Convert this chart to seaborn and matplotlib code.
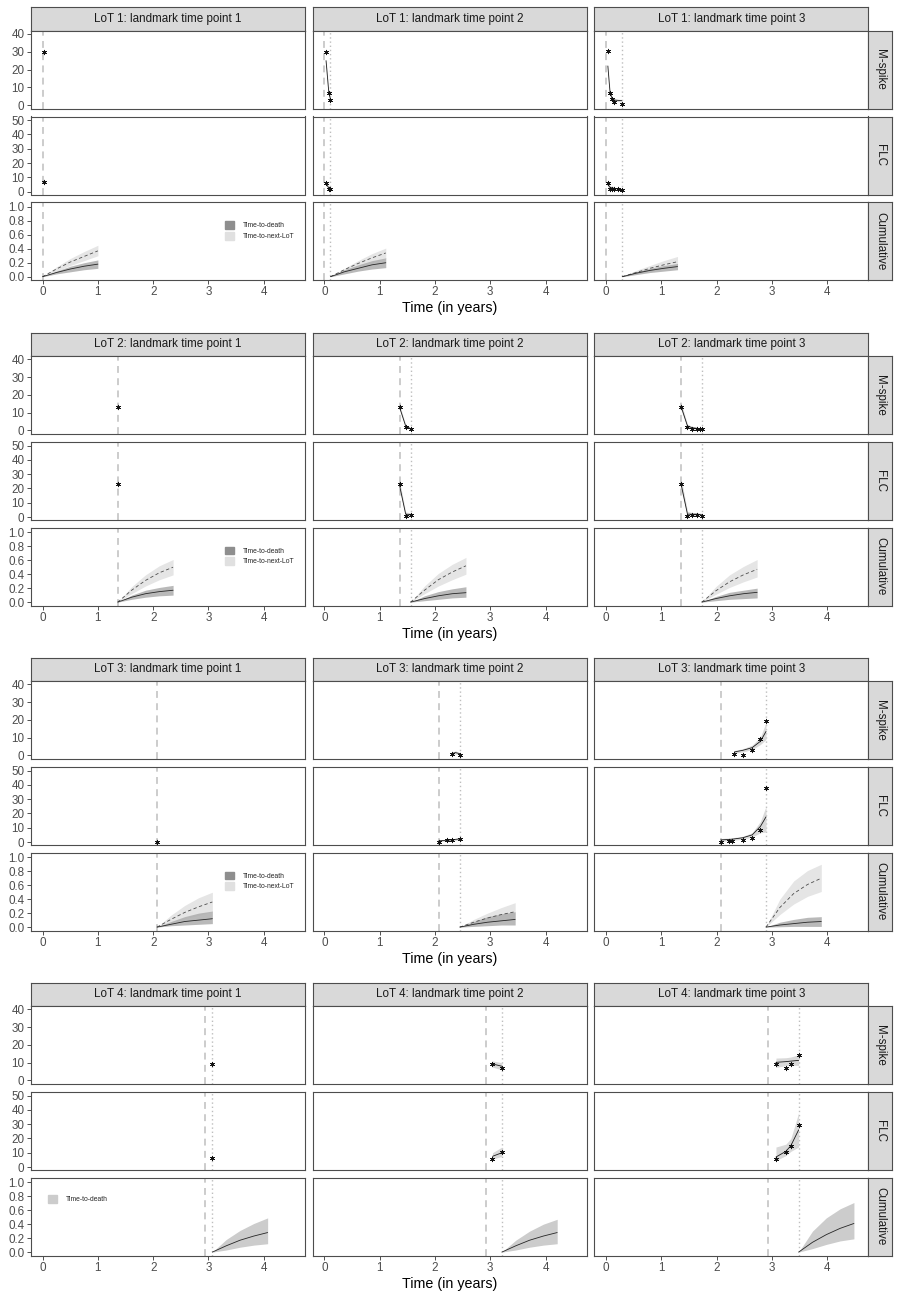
import matplotlib
matplotlib.use("Agg")
import matplotlib.pyplot as plt
from matplotlib.patches import Patch
from matplotlib.ticker import FormatStrFormatter
import seaborn as sns

sns.set_theme(style="white")
plt.rcParams["font.family"] = ["Liberation Sans", "DejaVu Sans"]

# start of each line of therapy (dashed line) and landmark time points (dotted line)
lot_start = [0.0, 1.36, 2.07, 2.93]
landmark = [[0.0, 0.11, 0.29],
            [1.36, 1.56, 1.73],
            [2.07, 2.45, 2.89],
            [3.07, 3.21, 3.48]]

# panels are ordered LoT1 lm1, LoT1 lm2, LoT1 lm3, LoT2 lm1, ... LoT4 lm3
# observed M-spike
mspike_t = [[0.02], [0.03, 0.08, 0.11], [0.03, 0.07, 0.11, 0.15, 0.28],
            [1.36], [1.36, 1.47, 1.56], [1.36, 1.47, 1.56, 1.64, 1.69, 1.73],
            [], [2.30, 2.45], [2.32, 2.47, 2.64, 2.79, 2.89],
            [3.07], [3.04, 3.21], [3.07, 3.25, 3.34, 3.48]]
mspike_v = [[30], [30, 7, 3], [30.5, 7, 3.2, 1.9, 0.6],
            [13], [13, 1.9, 0.6], [13, 2, 1, 0.8, 0.7, 0.6],
            [], [0.6, 0.5], [0.7, 0.5, 2.8, 9, 19.3],
            [9], [9.4, 6.8], [9.4, 6.8, 9, 14.3]]

# fitted M-spike trajectory with band
mspike_fit_t = [[], [0.03, 0.08, 0.11], [0.03, 0.07, 0.11, 0.15, 0.28],
                [], [1.36, 1.47, 1.56], [1.36, 1.47, 1.56, 1.64, 1.73],
                [], [2.30, 2.37, 2.45], [2.32, 2.47, 2.64, 2.79, 2.89],
                [], [3.04, 3.21], [3.07, 3.25, 3.34, 3.48]]
mspike_fit = [[], [25, 7, 3.2], [22, 7, 3.5, 2.8, 2.5],
              [], [13, 2.5, 1.0], [13, 2.5, 1.5, 1.2, 1.0],
              [], [1.0, 1.6, 1.0], [2.0, 2.9, 4.4, 8.0, 13.5],
              [], [9.3, 8.0], [10.2, 10.6, 10.9, 11.3]]
mspike_lo = [[], [24, 6, 2.5], [21, 6, 2.8, 2.2, 1.8],
             [], [12, 1.8, 0.5], [11, 1.8, 0.8, 0.6, 0.5],
             [], [0.5, 0.9, 0.4], [1.2, 2.0, 3.3, 6.2, 9.0],
             [], [7.5, 6.0], [7.4, 8.3, 8.5, 8.5]]
mspike_hi = [[], [26, 8, 3.9], [23, 8, 4.2, 3.4, 3.2],
             [], [14.5, 3.2, 1.5], [15, 3.5, 2.2, 1.8, 1.5],
             [], [1.5, 2.6, 1.6], [2.8, 3.8, 5.8, 10.5, 18.5],
             [], [11.0, 10.0], [12.6, 12.8, 13.2, 14.5]]

# observed FLC
flc_t = [[0.02], [0.03, 0.09, 0.11], [0.03, 0.07, 0.11, 0.15, 0.22, 0.28],
         [1.36], [1.36, 1.47, 1.56], [1.36, 1.47, 1.56, 1.65, 1.73],
         [2.07], [2.07, 2.22, 2.30, 2.45], [2.07, 2.22, 2.28, 2.47, 2.64, 2.79, 2.89],
         [3.07], [3.04, 3.21], [3.07, 3.25, 3.34, 3.48]]
flc_v = [[7], [6, 1.5, 1.5], [6, 2, 2, 2, 1.5, 1],
         [23], [23, 0.5, 1.2], [23, 0.8, 1.5, 1.5, 1.0],
         [0.3], [0.3, 1.2, 1.2, 2.0], [0.2, 0.8, 0.8, 1.3, 2.5, 8.2, 37.5],
         [6], [5.8, 10.2], [5.8, 10.4, 15, 29.7]]

# fitted FLC trajectory with band
flc_fit_t = [[], [0.03, 0.09, 0.11], [0.03, 0.07, 0.11, 0.15, 0.22, 0.28],
             [], [1.36, 1.47, 1.56], [1.36, 1.47, 1.56, 1.65, 1.73],
             [], [2.07, 2.22, 2.30, 2.45], [2.07, 2.22, 2.28, 2.47, 2.64, 2.79, 2.89],
             [], [3.04, 3.21], [3.07, 3.25, 3.34, 3.48]]
flc_fit = [[], [5.5, 2.0, 1.6], [5, 3, 2.5, 2.3, 2.0, 1.5],
           [], [22, 2.0, 1.8], [22, 2.0, 2.0, 2.0, 1.5],
           [], [0.8, 1.3, 1.6, 2.2], [1.5, 1.8, 2.0, 3.0, 5.0, 11.0, 17.6],
           [], [7.5, 10.0], [7.0, 11.0, 15.0, 26.0]]
flc_lo = [[], [4.5, 1.0, 0.8], [3.5, 2.0, 1.5, 1.5, 1.2, 0.8],
          [], [19, 0.5, 0.5], [18, 0.5, 1.0, 1.0, 0.5],
          [], [0.2, 0.8, 1.0, 1.4], [0.5, 1.0, 1.2, 2.0, 3.5, 6.5, 7.0],
          [], [5.5, 7.5], [4.5, 8.0, 11.0, 14.0]]
flc_hi = [[], [6.5, 3.0, 2.5], [6.5, 4.0, 3.5, 3.0, 2.6, 2.2],
          [], [25, 3.5, 3.0], [26, 4.0, 3.0, 3.0, 2.5],
          [], [1.4, 1.9, 2.2, 3.0], [2.5, 2.8, 3.0, 4.0, 6.5, 14.5, 25.0],
          [], [10.0, 14.0], [14.0, 16.0, 20.0, 38.0]]

# cumulative incidence, predicted over one year after the landmark
horizon = [0, 0.25, 0.5, 0.75, 1.0]
death_mid = [[0, 0.06, 0.11, 0.15, 0.18], [0, 0.07, 0.12, 0.17, 0.20], [0, 0.05, 0.09, 0.12, 0.145],
             [0, 0.07, 0.12, 0.15, 0.17], [0, 0.05, 0.09, 0.12, 0.135], [0, 0.05, 0.09, 0.12, 0.14],
             [0, 0.04, 0.08, 0.10, 0.12], [0, 0.04, 0.07, 0.09, 0.11], [0, 0.03, 0.05, 0.07, 0.08],
             [0, 0.09, 0.17, 0.23, 0.28], [0, 0.09, 0.17, 0.23, 0.28], [0, 0.14, 0.25, 0.34, 0.41]]
death_lo = [[0, 0.04, 0.07, 0.10, 0.12], [0, 0.04, 0.08, 0.11, 0.13], [0, 0.03, 0.06, 0.08, 0.10],
            [0, 0.04, 0.07, 0.09, 0.10], [0, 0.02, 0.04, 0.06, 0.07], [0, 0.02, 0.04, 0.05, 0.06],
            [0, 0.02, 0.03, 0.04, 0.05], [0, 0.01, 0.02, 0.03, 0.03], [0, 0.005, 0.01, 0.01, 0.01],
            [0, 0.03, 0.07, 0.10, 0.12], [0, 0.03, 0.07, 0.10, 0.12], [0, 0.05, 0.11, 0.16, 0.19]]
death_hi = [[0, 0.08, 0.15, 0.20, 0.24], [0, 0.10, 0.17, 0.23, 0.27], [0, 0.07, 0.12, 0.16, 0.19],
            [0, 0.10, 0.17, 0.21, 0.24], [0, 0.09, 0.15, 0.19, 0.22], [0, 0.08, 0.14, 0.17, 0.20],
            [0, 0.08, 0.15, 0.20, 0.23], [0, 0.08, 0.15, 0.19, 0.22], [0, 0.07, 0.11, 0.14, 0.15],
            [0, 0.18, 0.31, 0.41, 0.49], [0, 0.17, 0.30, 0.40, 0.47], [0, 0.30, 0.49, 0.62, 0.71]]
next_mid = [[0, 0.11, 0.21, 0.29, 0.37], [0, 0.10, 0.19, 0.27, 0.34], [0, 0.06, 0.12, 0.17, 0.215],
            [0, 0.17, 0.31, 0.42, 0.50], [0, 0.17, 0.32, 0.43, 0.52], [0, 0.16, 0.29, 0.39, 0.47],
            [0, 0.11, 0.21, 0.29, 0.36], [0, 0.07, 0.13, 0.18, 0.22], [0, 0.28, 0.48, 0.61, 0.70],
            None, None, None]
next_lo = [[0, 0.08, 0.16, 0.23, 0.30], [0, 0.07, 0.14, 0.20, 0.26], [0, 0.04, 0.08, 0.12, 0.16],
           [0, 0.12, 0.23, 0.32, 0.39], [0, 0.12, 0.23, 0.32, 0.40], [0, 0.11, 0.21, 0.29, 0.36],
           [0, 0.06, 0.12, 0.17, 0.22], [0, 0.03, 0.06, 0.09, 0.12], [0, 0.18, 0.33, 0.44, 0.51],
           None, None, None]
next_hi = [[0, 0.14, 0.26, 0.36, 0.45], [0, 0.12, 0.23, 0.33, 0.41], [0, 0.09, 0.16, 0.23, 0.29],
           [0, 0.22, 0.39, 0.52, 0.61], [0, 0.23, 0.41, 0.54, 0.64], [0, 0.22, 0.39, 0.51, 0.61],
           [0, 0.17, 0.31, 0.42, 0.50], [0, 0.11, 0.20, 0.28, 0.35], [0, 0.40, 0.66, 0.81, 0.90],
           None, None, None]

row_names = ["M-spike", "FLC", "Cumulative"]
x_ticks = [0, 1, 2, 3, 4]
y_ticks = [[0, 10, 20, 30, 40], [0, 10, 20, 30, 40, 50], [0.0, 0.2, 0.4, 0.6, 0.8, 1.0]]
y_lims = [(-2.1, 41.8), (-2.0, 52.6), (-0.05, 1.067)]

W, H = 900.0, 1300.0
fig = plt.figure(figsize=(9, 13), dpi=100)


def px_axes(x0, y0, w, h):
    return fig.add_axes([x0 / W, 1 - (y0 + h) / H, w / W, h / H])


def strip(ax, text, rot):
    ax.set_facecolor("#D9D9D9")
    ax.set_xticks([])
    ax.set_yticks([])
    for s in ax.spines.values():
        s.set_color("#4D4D4D")
        s.set_linewidth(0.8)
    ax.text(0.5, 0.5, text, rotation=rot, ha="center", va="center",
            fontsize=8.4, color="#1A1A1A", transform=ax.transAxes)


col_left = [30.7, 312.5, 594.3]
panel_w = 274.0
block_top = [7.3, 332.7, 657.7, 982.7]
strip_h = 23.5
panel_h = 78.0
gap = 7.7

STAR = (6, 2, 0)
GREY_LINE = "#BEBEBE"

for i in range(4):
    top = block_top[i]
    for j in range(3):
        p = 3 * i + j
        lm = landmark[i][j]
        strip(px_axes(col_left[j], top, panel_w, strip_h),
              f"LoT {i + 1}: landmark time point {j + 1}", 0)
        for r in range(3):
            y0 = top + strip_h + r * (panel_h + gap)
            ax = px_axes(col_left[j], y0, panel_w, panel_h)
            ax.set_facecolor("white")
            for s in ax.spines.values():
                s.set_color("#4D4D4D")
                s.set_linewidth(0.8)

            ax.axvline(lot_start[i], color=GREY_LINE, lw=1.1, ls=(0, (4.5, 3.5)), zorder=1)
            if abs(lm - lot_start[i]) > 1e-9:
                ax.axvline(lm, color=GREY_LINE, lw=1.0, ls=(0, (1, 2)), zorder=1)

            if r < 2:
                ot, ov = (mspike_t[p], mspike_v[p]) if r == 0 else (flc_t[p], flc_v[p])
                ft, fm, flo, fhi = ((mspike_fit_t[p], mspike_fit[p], mspike_lo[p], mspike_hi[p])
                                    if r == 0 else
                                    (flc_fit_t[p], flc_fit[p], flc_lo[p], flc_hi[p]))
                if ft:
                    ax.fill_between(ft, flo, fhi, color="#D9D9D9", lw=0, zorder=2)
                    sns.lineplot(x=ft, y=fm, ax=ax, color="#1A1A1A", linewidth=0.6, zorder=3)
                if ot:
                    sns.scatterplot(x=ot, y=ov, ax=ax, marker=STAR, s=11, color="#111111",
                                    linewidth=0.5, zorder=4)
            else:
                xs = [lm + h for h in horizon]
                if next_mid[p] is not None:
                    ax.fill_between(xs, next_lo[p], next_hi[p], color="#E5E5E5", lw=0, zorder=2)
                    ax.fill_between(xs, death_lo[p], death_hi[p], color="#ADADAD", lw=0,
                                    alpha=0.85, zorder=2.1)
                    sns.lineplot(x=xs, y=next_mid[p], ax=ax, color="#4D4D4D", linewidth=0.6,
                                 linestyle=(0, (4, 3)), zorder=3)
                else:
                    ax.fill_between(xs, death_lo[p], death_hi[p], color="#CCCCCC", lw=0, zorder=2)
                sns.lineplot(x=xs, y=death_mid[p], ax=ax, color="#262626", linewidth=0.6, zorder=3)

                if j == 0:
                    if next_mid[p] is not None:
                        handles = [Patch(color="#8E8E8E", label="Time-to-death"),
                                   Patch(color="#E0E0E0", label="Time-to-next-LoT")]
                        anchor = (0.71, 0.754)
                    else:
                        handles = [Patch(color="#CCCCCC", label="Time-to-death")]
                        anchor = (0.064, 0.773)
                    ax.legend(handles=handles, loc="upper left", bbox_to_anchor=anchor,
                              frameon=False, fontsize=4.9, borderpad=0, borderaxespad=0,
                              handlelength=1.35, handleheight=1.35, handletextpad=1.2,
                              labelspacing=0.37)

            ax.set_xlim(-0.215, 4.74)
            ax.set_ylim(*y_lims[r])
            ax.set_xticks(x_ticks)
            ax.set_yticks(y_ticks[r])
            ax.set_xlabel("")
            ax.set_ylabel("")
            if r == 2:
                ax.yaxis.set_major_formatter(FormatStrFormatter("%.1f"))
            ax.tick_params(axis="both", which="both", length=3, width=0.6, color="#333333",
                           labelsize=8.4, labelcolor="#4D4D4D", pad=1.5,
                           bottom=(r == 2), labelbottom=(r == 2),
                           left=(j == 0), labelleft=(j == 0))

            if j == 2:
                strip(px_axes(col_left[2] + panel_w, y0, 24.2, panel_h), row_names[r], 270)

    cum_bottom = top + strip_h + 2 * (panel_h + gap) + panel_h
    fig.text((col_left[0] + col_left[2] + panel_w) / 2 / W, 1 - (cum_bottom + 28) / H,
             "Time (in years)", ha="center", va="center", fontsize=10.3, color="black")

fig.savefig("out.png", dpi=100, facecolor="white")
